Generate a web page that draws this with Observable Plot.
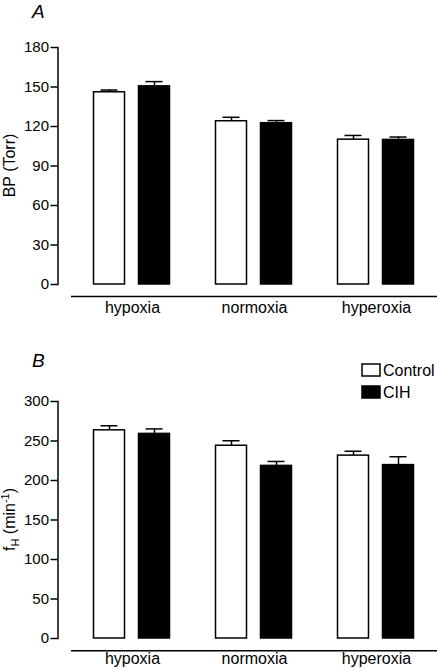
<!DOCTYPE html>
<html><head><meta charset="utf-8">
<script src="https://cdn.jsdelivr.net/npm/d3@7"></script>
<script src="https://cdn.jsdelivr.net/npm/@observablehq/plot@0.6"></script>
<style>
body{margin:0;background:#fff;font-family:"Liberation Sans",Arial,sans-serif;}
#wrap{position:relative;width:437px;height:670px;overflow:hidden;}
.panel{position:absolute;left:0;}
</style></head><body><div id="wrap"></div>
<script>
const conditions = ["hypoxia", "normoxia", "hyperoxia"];
const groups = ["Control", "CIH"];
const groupColors = ["white", "black"];

// Panel A: BP (Torr)
const bpControl = [146, 124, 110];
const bpControlErr = [1.7, 3, 3.2];
const bpCIH = [150.5, 122.5, 109.8];
const bpCIHErr = [3.6, 2, 2.2];
const bpTicks = [0, 30, 60, 90, 120, 150, 180];

// Panel B: fH (min-1)
const fhControl = [263.5, 244, 231.5];
const fhControlErr = [5.8, 6.3, 5.5];
const fhCIH = [259, 218.5, 219.5];
const fhCIHErr = [6.3, 5.6, 10.6];
const fhTicks = [0, 50, 100, 150, 200, 250, 300];

function rows(c, ce, h, he) {
  const out = [];
  conditions.forEach((cond, i) => {
    out.push({condition: cond, group: groups[0], value: c[i], err: ce[i]});
    out.push({condition: cond, group: groups[1], value: h[i], err: he[i]});
  });
  return out;
}

const font = "Liberation Sans, Arial, sans-serif";

function panel({data, ticks, height, marginTop, marginBottom, axisGap, labelPad}) {
  return Plot.plot({
    width: 437, height,
    marginLeft: 70.5, marginRight: 0.5, marginTop, marginBottom,
    style: {fontFamily: font, fontSize: "15px", color: "black", background: "white", overflow: "visible"},
    fx: {domain: conditions, padding: 0, label: null},
    x: {domain: groups, paddingInner: 0.308, paddingOuter: 0.495, axis: null},
    y: {domain: [ticks[0], ticks[ticks.length - 1]], label: null},
    color: {domain: groups, range: groupColors},
    marks: [
      Plot.axisY({ticks, tickSize: 7, tickPadding: 2, dx: -13.5, label: null, fontSize: 15, strokeWidth: 1.5}),
      Plot.frame({anchor: "left", facetAnchor: "left", dx: -13.5, strokeWidth: 1.5}),
      Plot.ruleY([ticks[0]], {dy: axisGap, strokeWidth: 1.5}),
      Plot.axisFx({anchor: "bottom", tickSize: 0, tickPadding: labelPad, label: null, fontSize: 16}),
      Plot.barY(data, {x: "group", fx: "condition", y: "value", fill: "group", stroke: "black", strokeWidth: 1.5}),
      Plot.ruleX(data, {x: "group", fx: "condition", y1: "value", y2: d => d.value + d.err, strokeWidth: 1.5}),
      Plot.tickY(data, {x: "group", fx: "condition", y: d => d.value + d.err, insetLeft: 7, insetRight: 7, strokeWidth: 1.5})
    ]
  });
}

const wrap = document.getElementById("wrap");

// Panel A
const plotA = panel({data: rows(bpControl, bpControlErr, bpCIH, bpCIHErr), ticks: bpTicks,
  height: 320, marginTop: 47, marginBottom: 36, axisGap: 12, labelPad: 17});
const divA = document.createElement("div"); divA.className = "panel"; divA.style.top = "0px";
divA.appendChild(plotA); wrap.appendChild(divA);

// Panel B
const plotB = panel({data: rows(fhControl, fhControlErr, fhCIH, fhCIHErr), ticks: fhTicks,
  height: 350, marginTop: 81, marginBottom: 32, axisGap: 12.3, labelPad: 14});
const divB = document.createElement("div"); divB.className = "panel"; divB.style.top = "320px";
divB.appendChild(plotB); wrap.appendChild(divB);

function decorate(svgNode, title, titleY, labelFn) {
  const svg = d3.select(svgNode);
  const y = svgNode.scale("y");
  const [r0, r1] = y.range;
  const cy = (r0 + r1) / 2;
  svg.append("text").attr("x", 32).attr("y", titleY).attr("text-anchor", "start")
    .attr("font-family", font).attr("font-size", 19).attr("font-style", "italic").text(title);
  const t = svg.append("text").attr("transform", `translate(15,${cy}) rotate(-90)`)
    .attr("text-anchor", "middle").attr("font-family", font).attr("font-size", 16);
  labelFn(t);
}

decorate(plotA, "A", 18, t => t.text("BP (Torr)"));
decorate(plotB, "B", 47, t => {
  t.append("tspan").text("f");
  t.append("tspan").attr("font-size", 11).attr("dy", 4).text("H");
  t.append("tspan").attr("dy", -4).text(" (min");
  t.append("tspan").attr("font-size", 11).attr("dy", -6).text("-1");
  t.append("tspan").attr("dy", 6).text(")");
});

// Legend for panel B
const svgB = d3.select(plotB);
groups.forEach((g, i) => {
  svgB.append("rect").attr("x", 362).attr("y", 44 + i * 22).attr("width", 18).attr("height", 12)
    .attr("fill", groupColors[i]).attr("stroke", "black").attr("stroke-width", 1.5);
  svgB.append("text").attr("x", 383).attr("y", 56 + i * 22).attr("text-anchor", "start")
    .attr("font-family", font).attr("font-size", 16).text(g);
});
</script></body></html>
